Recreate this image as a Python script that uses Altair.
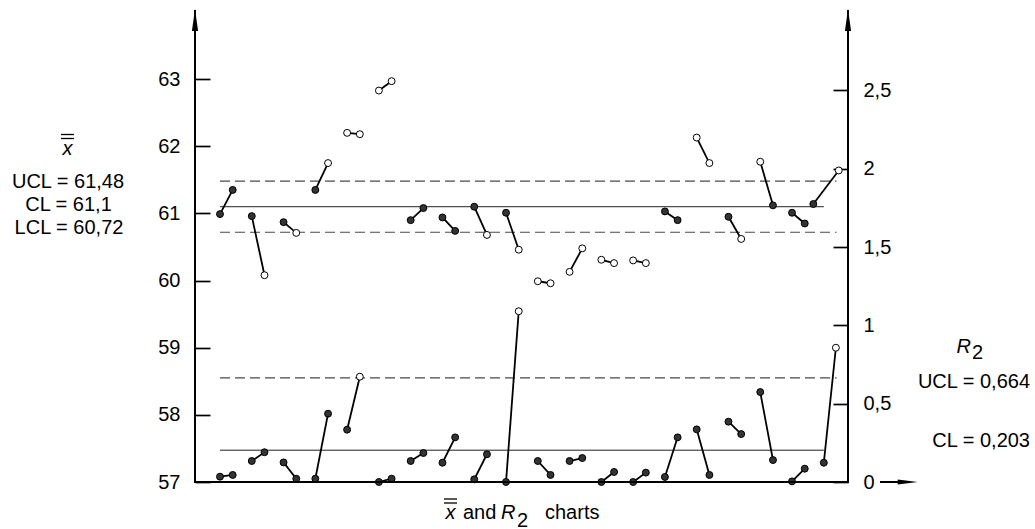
import altair as alt
import pandas as pd

# ---------------- data ----------------
samples = list(range(1, 21))
# sample positions of the two points in each pair (x̄ chart and R chart)
xbar_pos_first = [1, 2, 3, 4, 5, 6, 7, 8, 9, 10, 11, 12, 13, 14, 15, 16, 17, 18, 19, 19.67]
xbar_pos_second = [1.4, 2.4, 3.4, 4.4, 5.4, 6.4, 7.4, 8.4, 9.4, 10.4, 11.4, 12.4, 13.4, 14.4,
                   15.4, 16.4, 17.4, 18.4, 19.4, 20.47]
r_pos_first = [1, 2, 3, 4, 5, 6, 7, 8, 9, 10, 11, 12, 13, 14, 15, 16, 17, 18, 19, 20.0]
r_pos_second = [1.4, 2.4, 3.4, 4.4, 5.4, 6.4, 7.4, 8.4, 9.4, 10.4, 11.4, 12.4, 13.4, 14.4,
                15.4, 16.4, 17.4, 18.4, 19.4, 20.38]

xbar_first = [60.99, 60.96, 60.87, 61.35, 62.20, 62.83, 60.90, 60.94, 61.10, 61.01,
              59.99, 60.13, 60.31, 60.30, 61.03, 62.13, 60.95, 61.77, 61.01, 61.14]
xbar_second = [61.35, 60.08, 60.71, 61.75, 62.18, 62.97, 61.08, 60.74, 60.68, 60.46,
               59.96, 60.48, 60.26, 60.26, 60.90, 61.75, 60.62, 61.12, 60.85, 61.64]

r_first = [0.034, 0.134, 0.125, 0.021, 0.334, 0.000, 0.134, 0.123, 0.017, 0.000,
           0.134, 0.134, 0.000, 0.000, 0.032, 0.336, 0.385, 0.574, 0.004, 0.123]
r_second = [0.045, 0.190, 0.021, 0.436, 0.672, 0.021, 0.185, 0.285, 0.177, 1.090,
            0.045, 0.153, 0.064, 0.060, 0.285, 0.045, 0.306, 0.140, 0.085, 0.857]

xbar_ucl, xbar_cl, xbar_lcl = 61.48, 61.1, 60.72
r_ucl, r_cl = 0.664, 0.203

limit_start = 1.0
limit_end = 20.4
center_end = 20.0

xbar_ticks = [57, 58, 59, 60, 61, 62, 63]
r_ticks = [0, 0.5, 1, 1.5, 2, 2.5]

# ---------------- tables ----------------
def points_table(p1, p2, v1, v2, lo, hi):
    rows = []
    for i in range(len(v1)):
        for p, v in ((p1[i], v1[i]), (p2[i], v2[i])):
            rows.append({"pair": samples[i], "pos": p, "value": v,
                         "status": "in" if lo <= v <= hi else "out"})
    return pd.DataFrame(rows)

def pairs_table(p1, p2, v1, v2):
    return pd.DataFrame({"pair": samples, "p1": p1, "p2": p2, "v1": v1, "v2": v2})

df_xp = points_table(xbar_pos_first, xbar_pos_second, xbar_first, xbar_second, xbar_lcl, xbar_ucl)
df_rp = points_table(r_pos_first, r_pos_second, r_first, r_second, -1, r_ucl)
df_xs = pairs_table(xbar_pos_first, xbar_pos_second, xbar_first, xbar_second)
df_rs = pairs_table(r_pos_first, r_pos_second, r_first, r_second)

df_x_dash = pd.DataFrame({"value": [xbar_ucl, xbar_lcl], "start": limit_start, "end": limit_end})
df_x_cl = pd.DataFrame({"value": [xbar_cl], "start": limit_start, "end": center_end})
df_r_dash = pd.DataFrame({"value": [r_ucl], "start": limit_start, "end": limit_end})
df_r_cl = pd.DataFrame({"value": [r_cl], "start": limit_start, "end": center_end})

# ---------------- scales / axes ----------------
FONT = "Liberation Sans"
xs = alt.Scale(domain=[0.2133, 20.761], nice=False, zero=False)
ys_x = alt.Scale(domain=[57, 64], nice=False, zero=False)
ys_r = alt.Scale(domain=[0, 3], nice=False, zero=False)

axis_left = alt.Axis(orient="left", values=xbar_ticks, offset=-15, tickSize=15, tickWidth=1.7,
                     tickColor="black", domain=False, grid=False, labelFont=FONT,
                     labelFontSize=20, labelColor="black", labelPadding=15, title=None)
axis_right = alt.Axis(orient="right", values=r_ticks, offset=-15, tickSize=15, tickWidth=1.7,
                      tickColor="black", domain=False, grid=False, labelFont=FONT,
                      labelFontSize=20, labelColor="black", labelPadding=15, title=None,
                      labelExpr="replace(toString(datum.value), '.', ',')")

fill_scale = alt.Scale(domain=["in", "out"], range=["#333333", "#ffffff"])


def chart_layers(df_pts, df_seg, df_dash, df_cl, ysc, ax):
    dash = alt.Chart(df_dash).mark_rule(color="#4a4a4a", strokeWidth=1.2, strokeDash=[10, 5]).encode(
        x=alt.X("start:Q", scale=xs, axis=None), x2="end:Q",
        y=alt.Y("value:Q", scale=ysc, axis=ax))
    cl = alt.Chart(df_cl).mark_rule(color="#222222", strokeWidth=1).encode(
        x=alt.X("start:Q", scale=xs, axis=None), x2="end:Q",
        y=alt.Y("value:Q", scale=ysc, axis=ax))
    seg = alt.Chart(df_seg).mark_rule(color="black", strokeWidth=1.8).encode(
        x=alt.X("p1:Q", scale=xs, axis=None), x2="p2:Q",
        y=alt.Y("v1:Q", scale=ysc, axis=ax), y2="v2:Q")
    pts = alt.Chart(df_pts).mark_circle(size=48, stroke="black", strokeWidth=1, opacity=1).encode(
        x=alt.X("pos:Q", scale=xs, axis=None),
        y=alt.Y("value:Q", scale=ysc, axis=ax),
        fill=alt.Fill("status:N", scale=fill_scale, legend=None))
    return alt.layer(dash, cl, seg, pts)


xbar_chart = chart_layers(df_xp, df_xs, df_x_dash, df_x_cl, ys_x, axis_left)
r_chart = chart_layers(df_rp, df_rs, df_r_dash, df_r_cl, ys_r, axis_right)

# ---------------- decorations (axis lines, arrows, texts) ----------------
base = alt.Chart(pd.DataFrame({"d": [0]}))
W, H = 653, 470

axis_lines = [
    base.mark_rule(color="black", strokeWidth=2).encode(x=alt.value(0), y=alt.value(-2), y2=alt.value(H)),
    base.mark_rule(color="black", strokeWidth=2).encode(x=alt.value(W), y=alt.value(-2), y2=alt.value(H)),
    base.mark_rule(color="black", strokeWidth=2).encode(x=alt.value(-1), x2=alt.value(W + 1), y=alt.value(H)),
    base.mark_rule(color="black", strokeWidth=2).encode(x=alt.value(685), x2=alt.value(706), y=alt.value(H)),
]
up_arrow = "M0,-1L0.28,1L-0.28,1Z"
right_arrow = "M1,0L-1,-0.26L-1,0.26Z"
arrows = [
    base.mark_point(shape=up_arrow, filled=True, color="black", opacity=1, size=484, strokeWidth=0).encode(
        x=alt.value(0), y=alt.value(8)),
    base.mark_point(shape=up_arrow, filled=True, color="black", opacity=1, size=484, strokeWidth=0).encode(
        x=alt.value(W), y=alt.value(8)),
    base.mark_point(shape=right_arrow, filled=True, color="black", opacity=1, size=400, strokeWidth=0).encode(
        x=alt.value(712.7), y=alt.value(H)),
]


def txt(s, x, y, align="left", italic=False):
    return base.mark_text(text=s, align=align, baseline="alphabetic", font=FONT, fontSize=20,
                          fontStyle="italic" if italic else "normal", color="black").encode(
        x=alt.value(x), y=alt.value(y))


def overline(x1, x2, y):
    return base.mark_rule(color="black", strokeWidth=1.3).encode(
        x=alt.value(x1), x2=alt.value(x2), y=alt.value(y))


texts = [
    # left label block
    overline(-134, -121, 122.5), overline(-134, -121, 126.5),
    txt("x", -127.5, 143, align="center", italic=True),
    txt("UCL = 61,48", -127, 176, align="center"),
    txt("CL = 61,1", -126.5, 199, align="center"),
    txt("LCL = 60,72", -126, 222, align="center"),
    # right label block
    txt("R", 761.5, 341.3, italic=True),
    txt("2", 777, 347),
    txt("UCL = 0,664", 835, 376, align="right"),
    txt("CL = 0,203", 835, 435, align="right"),
    # bottom title
    overline(249, 262, 487), overline(249, 262, 491),
    txt("x", 255.5, 507, align="center", italic=True),
    txt("and", 268, 507),
    txt("R", 306, 507, italic=True),
    txt("2", 322, 514.5),
    txt("charts", 350, 507),
]

chart = alt.layer(xbar_chart, r_chart, *axis_lines, *arrows, *texts).resolve_scale(
    y="independent"
).properties(
    width=W, height=H,
    autosize=alt.AutoSizeParams(type="none"),
    padding={"left": 195, "top": 12, "right": 187, "bottom": 47},
    background="white",
).configure_view(stroke=None)

chart.save("out.html", embed_options={"renderer": "svg", "actions": False})
